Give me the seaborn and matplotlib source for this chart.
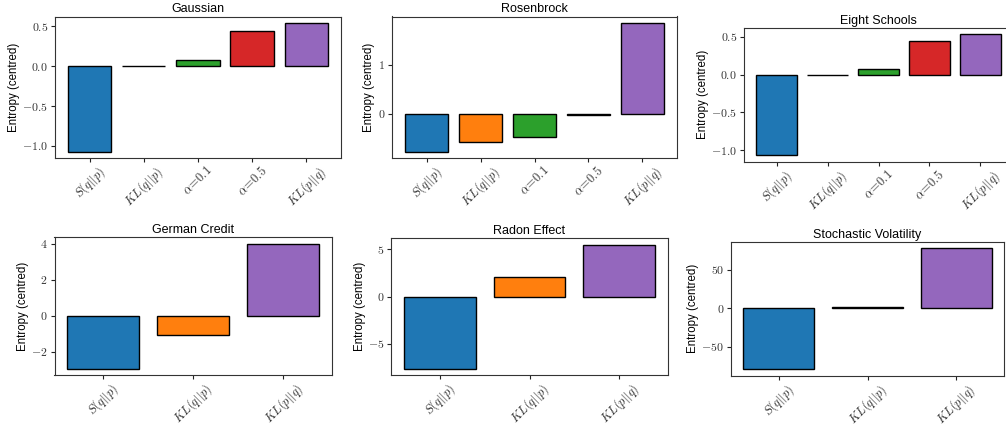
import matplotlib
matplotlib.use("Agg")
import matplotlib.pyplot as plt
import seaborn as sns
from matplotlib.ticker import FuncFormatter

# ---------------- data ----------------
labels5 = [r"$S(q||p)$", r"$KL(q||p)$", r"$\alpha\!=\!0.1$", r"$\alpha\!=\!0.5$", r"$KL(p||q)$"]
labels3 = [r"$S(q||p)$", r"$KL(q||p)$", r"$KL(p||q)$"]

gaussian = [-1.07, 0.0, 0.08, 0.44, 0.54]
rosenbrock = [-0.78, -0.58, -0.48, -0.03, 1.86]
eight_schools = [-1.07, 0.0, 0.08, 0.44, 0.54]
german_credit = [-2.93, -1.07, 4.0]
radon_effect = [-7.68, 2.11, 5.53]
stoch_vol = [-79.7, 0.9, 78.4]

colors5 = ["#1f77b4", "#ff7f0e", "#2ca02c", "#d62728", "#9467bd"]
colors3 = ["#1f77b4", "#ff7f0e", "#9467bd"]

panels = [
    ("Gaussian", labels5, gaussian, colors5, "{:.1f}"),
    ("Rosenbrock", labels5, rosenbrock, colors5, "{:.0f}"),
    ("Eight Schools", labels5, eight_schools, colors5, "{:.1f}"),
    ("German Credit", labels3, german_credit, colors3, "{:.0f}"),
    ("Radon Effect", labels3, radon_effect, colors3, "{:.0f}"),
    ("Stochastic Volatility", labels3, stoch_vol, colors3, "{:.0f}"),
]

# ---------------- style ----------------
plt.rcParams["mathtext.fontset"] = "cm"
plt.rcParams["font.family"] = ["Liberation Sans", "DejaVu Sans"]

W, H = 1006, 425
fig = plt.figure(figsize=(W / 100, H / 100), dpi=100)

# axes boxes in pixels: left, right, top, bottom
boxes = [
    (55, 341, 16.5, 158),
    (392, 677, 16.5, 158),
    (744, 1013, 27.7, 161.5),
    (54.5, 332, 237.3, 375),
    (391, 668, 238.3, 375),
    (731, 1004, 241.7, 375.5),
]

for (title, labels, vals, cols, fmt), (l, r, t, b) in zip(panels, boxes):
    ax = fig.add_axes([l / W, 1 - b / H, (r - l) / W, (b - t) / H])
    sns.barplot(x=labels, y=vals, hue=labels, palette=cols, edgecolor="black",
                linewidth=1.0, width=0.8, saturation=1, legend=False, ax=ax)
    ax.autoscale(enable=True, axis="x")
    ax.margins(x=0.05)
    ax.autoscale_view()
    ax.set_title(title, fontsize=9, pad=3)
    ax.set_ylabel("Entropy (centred)", fontsize=8.3, labelpad=1.5)
    ax.yaxis.set_major_formatter(FuncFormatter(lambda v, p, f=fmt: "$" + f.format(v) + "$"))
    ax.tick_params(axis="y", labelsize=8.5, length=3, pad=2, colors="#222222", labelcolor="#333333")
    ax.tick_params(axis="x", labelsize=9, length=3, pad=1, labelrotation=45, colors="#222222", labelcolor="#333333")
    for sp in ax.spines.values():
        sp.set_color("#333333")

fig.savefig("out.png", dpi=100)
